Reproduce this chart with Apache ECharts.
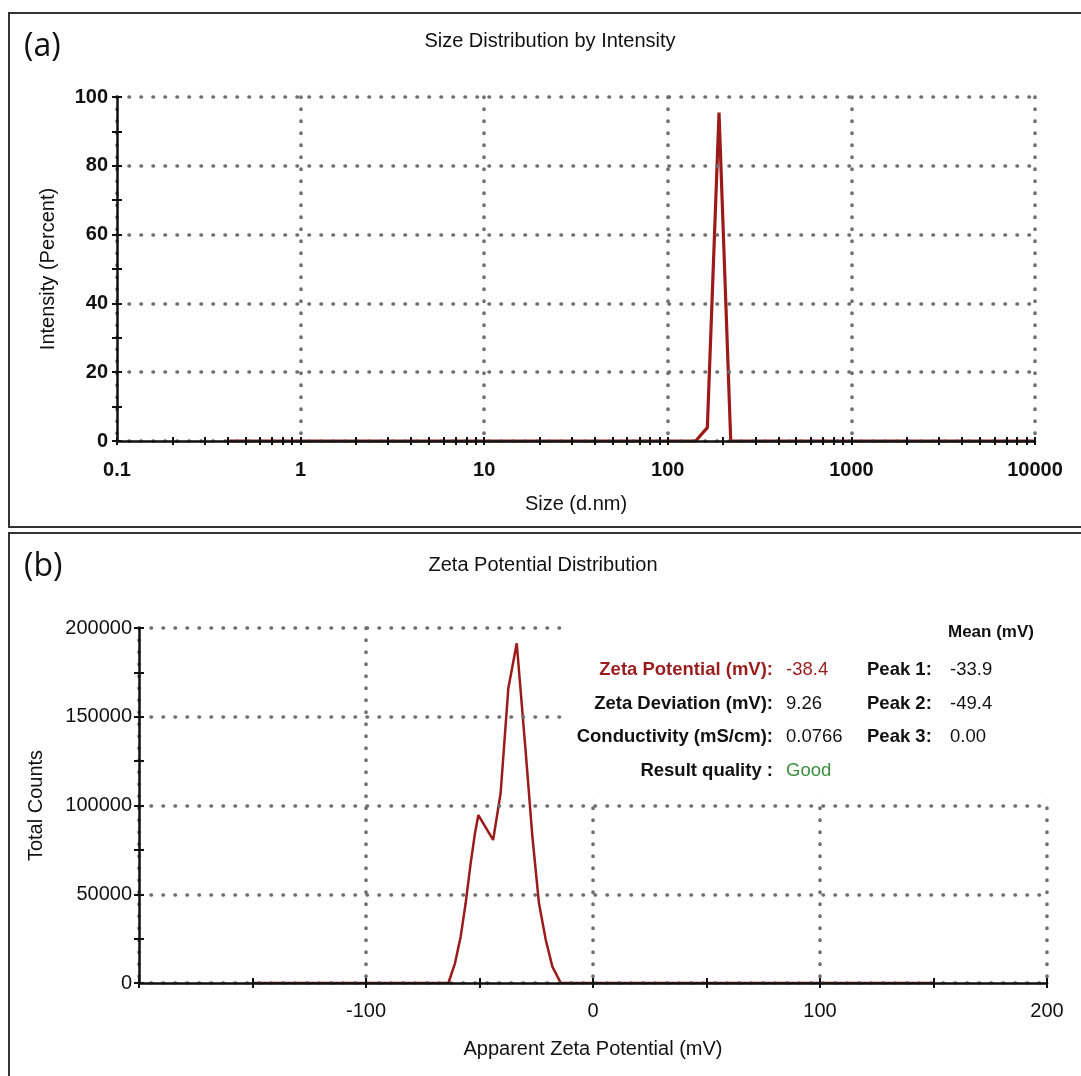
<!DOCTYPE html>
<html>
<head>
<meta charset="utf-8">
<script src="https://cdn.jsdelivr.net/npm/echarts@6/dist/echarts.min.js"></script>
<style>
  html, body { margin: 0; padding: 0; background: #fff; }
  #main { width: 1081px; height: 1076px; }
</style>
</head>
<body>
<div id="main"></div>
<script>
// (a) size distribution
var sizeNm = [0.4, 141.8, 164.2, 190.1, 220.2, 10000];
var intensityPct = [0, 0, 3.9, 95.5, 0, 0];
var sizeTicks = [0.1, 0.2, 0.3, 0.4, 0.5, 0.6, 0.7, 0.8, 0.9,
  1, 2, 3, 4, 5, 6, 7, 8, 9,
  10, 20, 30, 40, 50, 60, 70, 80, 90,
  100, 200, 300, 400, 500, 600, 700, 800, 900,
  1000, 2000, 3000, 4000, 5000, 6000, 7000, 8000, 9000, 10000];

// (b) zeta potential
var zetaMv = [-150, -63.7, -60.8, -58.3, -56.1, -53.9, -52.0, -50.5, -44.0, -40.7, -37.3, -33.6, -29.6, -26.7, -23.8, -20.8, -17.9, -14.2, 150];
var zetaCounts = [0, 0, 11100, 26100, 44900, 67400, 84300, 94600, 80600, 106900, 166000, 191400, 129400, 82400, 44900, 24200, 9200, 0, 0];
var zetaLabels = [-100, 0, 100, 200];

var chartDom = document.getElementById('main');
var myChart = echarts.init(chartDom, null, { renderer: 'canvas' });

var FONT = '"Liberation Sans", Arial, sans-serif';
var axisBlack = { color: '#111', width: 2.5 };
var tickBlack = { color: '#111', width: 2 };
var dotted = { color: '#6f6f6f', width: 3.6, type: [0.5, 11.5], cap: 'round' };
var curveRed = '#9b1a1a';

function plainNum(v) {
  return String(+Number(v).toPrecision(6));
}

var option = {
  animation: false,
  backgroundColor: '#fff',
  title: [
    {
      text: 'Size Distribution by Intensity',
      left: 545, top: 26, textAlign: 'center',
      textStyle: { fontFamily: FONT, fontSize: 20, fontWeight: 'normal', color: '#111' }
    },
    {
      text: 'Zeta Potential Distribution',
      left: 538, top: 550, textAlign: 'center',
      textStyle: { fontFamily: FONT, fontSize: 20, fontWeight: 'normal', color: '#111' }
    }
  ],
  grid: [
    { left: 117, right: 46, top: 97, height: 344 },
    { left: 139, right: 34, top: 628, height: 355 }
  ],
  xAxis: [
    // top, main axis with labels
    {
      type: 'log', logBase: 10, gridIndex: 0, position: 'bottom', min: 0.1, max: 10000, z: 5,
      name: 'Size (d.nm)', nameLocation: 'middle', nameGap: 53,
      nameTextStyle: { fontFamily: FONT, fontSize: 20, color: '#111' },
      axisLine: { show: true, onZero: false, lineStyle: axisBlack },
      axisTick: { show: true, length: 4, customValues: sizeTicks, lineStyle: tickBlack },
      axisLabel: { fontFamily: FONT, fontSize: 20, fontWeight: 'bold', color: '#111', margin: 19, formatter: plainNum },
      splitLine: { show: false }
    },
    // top, inside ticks
    {
      type: 'log', logBase: 10, gridIndex: 0, position: 'bottom', min: 0.1, max: 10000, z: 5,
      axisLine: { show: false, onZero: false },
      axisTick: { show: true, inside: true, length: 4, customValues: sizeTicks, lineStyle: tickBlack },
      axisLabel: { show: false },
      splitLine: { show: false }
    },
    // top, decade grid lines
    {
      type: 'log', logBase: 10, gridIndex: 0, position: 'bottom', min: 0.1, max: 10000,
      axisLine: { show: false, onZero: false },
      axisTick: { show: false },
      axisLabel: { show: false },
      splitLine: { show: true, lineStyle: dotted }
    },
    // bottom, main axis
    {
      type: 'value', gridIndex: 1, position: 'bottom', min: -200, max: 200, interval: 50, z: 5,
      name: 'Apparent Zeta Potential (mV)', nameLocation: 'middle', nameGap: 56,
      nameTextStyle: { fontFamily: FONT, fontSize: 20, color: '#111' },
      axisLine: { show: true, onZero: false, lineStyle: axisBlack },
      axisTick: { show: true, length: 5, lineStyle: tickBlack },
      axisLabel: { customValues: zetaLabels, fontFamily: FONT, fontSize: 20, color: '#111', margin: 18, formatter: plainNum },
      splitLine: { show: false }
    },
    // bottom, inside ticks
    {
      type: 'value', gridIndex: 1, position: 'bottom', min: -200, max: 200, interval: 50, z: 5,
      axisLine: { show: false, onZero: false },
      axisTick: { show: true, inside: true, length: 5, lineStyle: tickBlack },
      axisLabel: { show: false },
      splitLine: { show: false }
    },
    // bottom, grid lines every 100
    {
      type: 'value', gridIndex: 1, position: 'bottom', min: -200, max: 200, interval: 100,
      axisLine: { show: false, onZero: false },
      axisTick: { show: false },
      axisLabel: { show: false },
      splitLine: { show: true, lineStyle: dotted }
    }
  ],
  yAxis: [
    {
      type: 'value', gridIndex: 0, position: 'left', min: 0, max: 100, interval: 20, z: 5,
      name: 'Intensity (Percent)', nameLocation: 'middle', nameGap: 59,
      nameTextStyle: { fontFamily: FONT, fontSize: 20, color: '#111' },
      axisLine: { show: true, onZero: false, lineStyle: axisBlack },
      axisTick: { show: true, length: 5, lineStyle: tickBlack },
      minorTick: { show: true, splitNumber: 2, length: 5, lineStyle: tickBlack },
      axisLabel: { fontFamily: FONT, fontSize: 20, fontWeight: 'bold', color: '#111', margin: 9 },
      splitLine: { show: true, lineStyle: dotted }
    },
    {
      type: 'value', gridIndex: 0, position: 'left', min: 0, max: 100, interval: 20, z: 5,
      axisLine: { show: false, onZero: false },
      axisTick: { show: true, inside: true, length: 5, lineStyle: tickBlack },
      minorTick: { show: true, splitNumber: 2, length: 5, lineStyle: tickBlack },
      axisLabel: { show: false },
      splitLine: { show: false }
    },
    {
      type: 'value', gridIndex: 1, position: 'left', min: 0, max: 200000, interval: 50000, z: 5,
      name: 'Total Counts', nameLocation: 'middle', nameGap: 93,
      nameTextStyle: { fontFamily: FONT, fontSize: 20, color: '#111' },
      axisLine: { show: true, onZero: false, lineStyle: axisBlack },
      axisTick: { show: true, length: 5, lineStyle: tickBlack },
      minorTick: { show: true, splitNumber: 2, length: 5, lineStyle: tickBlack },
      axisLabel: { fontFamily: FONT, fontSize: 20, color: '#111', margin: 7, formatter: plainNum },
      splitLine: { show: true, lineStyle: dotted }
    },
    {
      type: 'value', gridIndex: 1, position: 'left', min: 0, max: 200000, interval: 50000, z: 5,
      axisLine: { show: false, onZero: false },
      axisTick: { show: true, inside: true, length: 5, lineStyle: tickBlack },
      minorTick: { show: true, splitNumber: 2, length: 5, lineStyle: tickBlack },
      axisLabel: { show: false },
      splitLine: { show: false }
    }
  ],
  series: [
    {
      type: 'line', xAxisIndex: 0, yAxisIndex: 0, z: 2,
      data: sizeNm.map(function (s, i) { return [s, intensityPct[i]]; }),
      showSymbol: false, symbol: 'none',
      lineStyle: { color: curveRed, width: 3.2 }
    },
    {
      type: 'line', xAxisIndex: 3, yAxisIndex: 2, z: 2,
      data: zetaMv.map(function (m, i) { return [m, zetaCounts[i]]; }),
      showSymbol: false, symbol: 'none',
      lineStyle: { color: curveRed, width: 2.5 }
    }
  ],
  graphic: [
    // panel frames
    { type: 'rect', z: 100, silent: true, shape: { x: 9, y: 13, width: 1100, height: 514 },
      style: { fill: 'none', stroke: '#333', lineWidth: 2 } },
    { type: 'rect', z: 100, silent: true, shape: { x: 9, y: 533, width: 1100, height: 600 },
      style: { fill: 'none', stroke: '#333', lineWidth: 2 } },
    { type: 'text', z: 100, style: { text: '(a)', x: 24, y: 47, fill: '#111', textVerticalAlign: 'middle',
      font: '32px "Open Sans", "Noto Sans", sans-serif' } },
    { type: 'text', z: 100, style: { text: '(b)', x: 24, y: 567, fill: '#111', textVerticalAlign: 'middle',
      font: '32px "Open Sans", "Noto Sans", sans-serif' } },
    // results box covering the grid behind it
    { type: 'rect', z: 50, silent: true, shape: { x: 566, y: 598, width: 520, height: 200 },
      style: { fill: '#fff' } },
    { type: 'text', z: 60, style: { text: 'Mean (mV)', x: 948, y: 632, fill: '#111', textVerticalAlign: 'middle', font: 'bold 17px ' + FONT } },
    { type: 'text', z: 60, style: { text: 'Zeta Potential (mV):', x: 773, y: 670, fill: '#9b1c1c', textAlign: 'right', textVerticalAlign: 'middle', font: 'bold 18.5px ' + FONT } },
    { type: 'text', z: 60, style: { text: 'Zeta Deviation (mV):', x: 773, y: 704, fill: '#111', textAlign: 'right', textVerticalAlign: 'middle', font: 'bold 18.5px ' + FONT } },
    { type: 'text', z: 60, style: { text: 'Conductivity (mS/cm):', x: 773, y: 737, fill: '#111', textAlign: 'right', textVerticalAlign: 'middle', font: 'bold 18.5px ' + FONT } },
    { type: 'text', z: 60, style: { text: 'Result quality :', x: 773, y: 771, fill: '#111', textAlign: 'right', textVerticalAlign: 'middle', font: 'bold 18.5px ' + FONT } },
    { type: 'text', z: 60, style: { text: '-38.4', x: 786, y: 670, fill: '#9b1c1c', textVerticalAlign: 'middle', font: '18.5px ' + FONT } },
    { type: 'text', z: 60, style: { text: '9.26', x: 786, y: 704, fill: '#111', textVerticalAlign: 'middle', font: '18.5px ' + FONT } },
    { type: 'text', z: 60, style: { text: '0.0766', x: 786, y: 737, fill: '#111', textVerticalAlign: 'middle', font: '18.5px ' + FONT } },
    { type: 'text', z: 60, style: { text: 'Good', x: 786, y: 771, fill: '#3d8f3d', textVerticalAlign: 'middle', font: '18.5px ' + FONT } },
    { type: 'text', z: 60, style: { text: 'Peak 1:', x: 867, y: 670, fill: '#111', textVerticalAlign: 'middle', font: 'bold 18.5px ' + FONT } },
    { type: 'text', z: 60, style: { text: 'Peak 2:', x: 867, y: 704, fill: '#111', textVerticalAlign: 'middle', font: 'bold 18.5px ' + FONT } },
    { type: 'text', z: 60, style: { text: 'Peak 3:', x: 867, y: 737, fill: '#111', textVerticalAlign: 'middle', font: 'bold 18.5px ' + FONT } },
    { type: 'text', z: 60, style: { text: '-33.9', x: 950, y: 670, fill: '#111', textVerticalAlign: 'middle', font: '18.5px ' + FONT } },
    { type: 'text', z: 60, style: { text: '-49.4', x: 950, y: 704, fill: '#111', textVerticalAlign: 'middle', font: '18.5px ' + FONT } },
    { type: 'text', z: 60, style: { text: '0.00', x: 950, y: 737, fill: '#111', textVerticalAlign: 'middle', font: '18.5px ' + FONT } }
  ]
};

if (option && typeof option === 'object') {
  myChart.setOption(option);
}

window.addEventListener('resize', myChart.resize);
</script>
</body>
</html>
